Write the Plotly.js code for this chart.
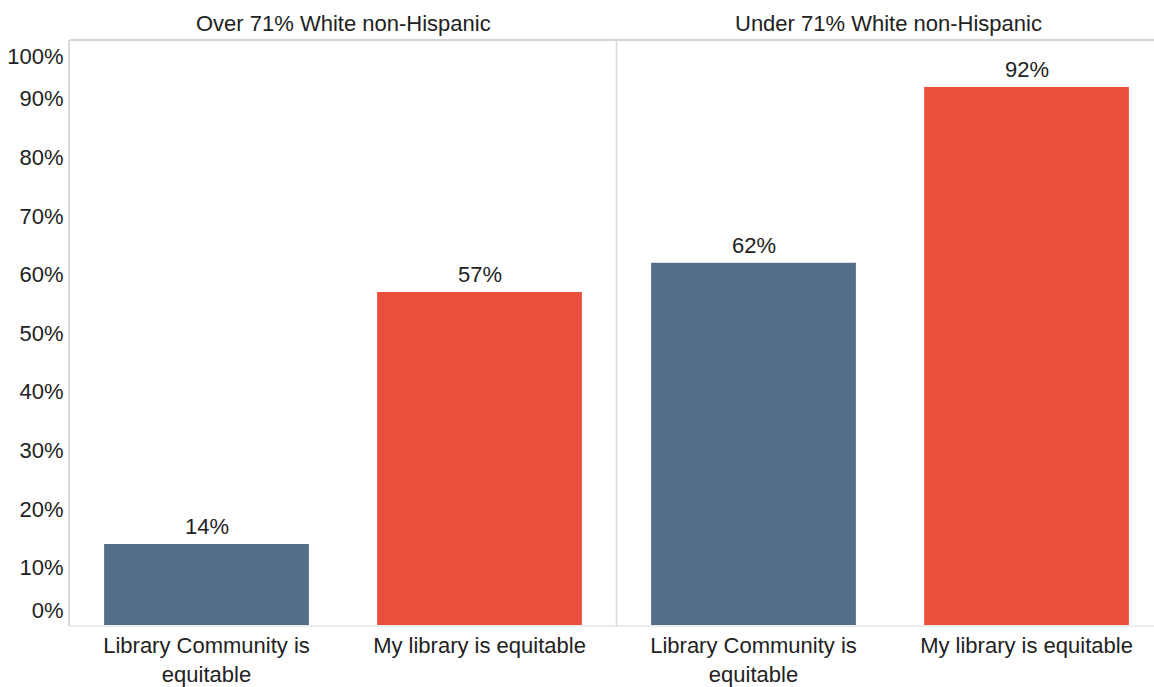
<!DOCTYPE html>
<html>
<head>
<meta charset="utf-8">
<script src="https://cdn.plot.ly/plotly-3.0.1.min.js"></script>
<style>
  html, body { margin: 0; padding: 0; background: #ffffff; }
  #chart { width: 1154px; height: 687px; }
</style>
</head>
<body>
<div id="chart"></div>
<script>
// ---- Data ----
const groups = ["Over 71% White non-Hispanic", "Under 71% White non-Hispanic"];
const categories = ["Library Community is<br>equitable", "My library is equitable"];
const overValues = [14, 57];
const underValues = [62, 92];
const yTickLabels = ["0%", "10%", "20%", "30%", "40%", "50%", "60%", "70%", "80%", "90%", "100%"];

// ---- Styling ----
const BLUE = "#546e8a";
const RED = "#e94f3c";
const TEXT = "#222222";
const FONT = "'Liberation Sans', Arial, sans-serif";
const barColors = [BLUE, RED];

const W = 1154, H = 687;
const margin = { l: 70, r: 0, t: 40, b: 61 };
const plotW = W - margin.l - margin.r;
const facetPx = 546;
const dom1 = [0, facetPx / plotW];
const dom2 = [(facetPx + 1) / plotW, 1];
const visibleUnits2 = (plotW - facetPx - 1) / (facetPx / 2);

const traces = [
  { type: "bar", x: categories, y: overValues, xaxis: "x", yaxis: "y",
    marker: { color: barColors }, width: 0.75, hoverinfo: "skip" },
  { type: "bar", x: categories, y: underValues, xaxis: "x2", yaxis: "y",
    marker: { color: barColors }, width: 0.75, hoverinfo: "skip" }
];

// y tick positions: first and last labels nudged inward as in the reference
const tickVals = yTickLabels.map((_, i) => i * 10);
tickVals[0] = tickVals[0] + 2.7;
tickVals[tickVals.length - 1] = tickVals[tickVals.length - 1] - 2.8;

const annotations = [];
[overValues, underValues].forEach((vals, g) => {
  vals.forEach((v, i) => {
    annotations.push({
      x: categories[i], y: v, xref: g === 0 ? "x" : "x2", yref: "y",
      text: v + "%", showarrow: false, xanchor: "center", yanchor: "bottom", yshift: 3,
      font: { family: FONT, size: 22, color: TEXT }
    });
  });
});
groups.forEach((g, i) => {
  const d = i === 0 ? dom1 : [dom2[0], dom2[0] + facetPx / plotW];
  annotations.push({
    x: (d[0] + d[1]) / 2 - (i === 0 ? 0 : 2 / plotW), y: 1, xref: "paper", yref: "paper",
    text: g, showarrow: false, xanchor: "center", yanchor: "bottom", yshift: 2,
    font: { family: FONT, size: 22, color: TEXT }
  });
});

const shapes = [
  { type: "line", xref: "paper", yref: "paper", x0: 0, x1: 1, y0: 1, y1: 1,
    line: { color: "#d4d4d4", width: 2 } },
  { type: "line", xref: "paper", yref: "paper", x0: 0, x1: 1, y0: 0, y1: 0,
    line: { color: "#ececec", width: 2 } },
  { type: "line", xref: "paper", yref: "paper", x0: (facetPx + 0.5) / plotW, x1: (facetPx + 0.5) / plotW, y0: 0, y1: 1,
    line: { color: "#d9d9d9", width: 1.5 } }
];

const xCommon = {
  type: "category", showgrid: false, zeroline: false, showline: false,
  ticks: "", ticklabelstandoff: 4,
  tickfont: { family: FONT, size: 22, color: TEXT }, fixedrange: true
};

const layout = {
  width: W, height: H, margin: margin,
  paper_bgcolor: "#ffffff", plot_bgcolor: "#ffffff",
  showlegend: false,
  font: { family: FONT, color: TEXT },
  xaxis: Object.assign({}, xCommon, { domain: dom1, range: [-0.5, 1.5] }),
  xaxis2: Object.assign({}, xCommon, { domain: dom2, range: [-0.5, -0.5 + visibleUnits2], anchor: "y" }),
  yaxis: {
    range: [0, 100], showgrid: false, zeroline: false,
    showline: true, linecolor: "#d9d9d9", linewidth: 2,
    ticks: "", tickvals: tickVals, ticktext: yTickLabels,
    tickfont: { family: FONT, size: 22, color: TEXT }, fixedrange: true
  },
  annotations: annotations,
  shapes: shapes
};

Plotly.newPlot("chart", traces, layout, { displayModeBar: false, staticPlot: true });
</script>
</body>
</html>
